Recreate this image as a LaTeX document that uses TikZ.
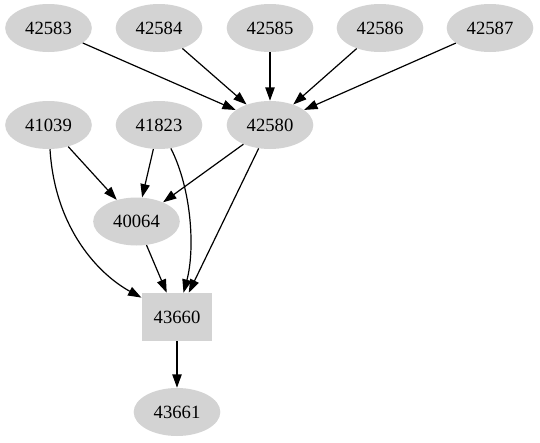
\documentclass[tikz,border=0pt]{standalone}
\usepackage{fontspec}
\setmainfont{Liberation Serif}
\usepackage{tikz}
\usetikzlibrary{arrows.meta,shapes.geometric}
\definecolor{NodeGray}{HTML}{D3D3D3}

\begin{document}
\begin{tikzpicture}[x=0.75pt,y=-0.75pt,font=\fontsize{14pt}{16pt}\selectfont,
    oval/.style={ellipse, fill=NodeGray, minimum width=65pt, minimum height=36pt, inner sep=0pt},
    boxnode/.style={rectangle, fill=NodeGray, minimum width=53pt, minimum height=36pt, inner sep=0pt},
    edge/.style={draw=black, line width=0.9pt, -{Triangle[length=10pt,width=7pt]}}]
    \useasboundingbox (0,0) rectangle (540,443);
    % top row
    \node[oval] (n42583) at (48.5,28) {42583};
    \node[oval] (n42584) at (159,28) {42584};
    \node[oval] (n42585) at (270,28) {42585};
    \node[oval] (n42586) at (380,28) {42586};
    \node[oval] (n42587) at (490,28) {42587};
    % second row
    \node[oval] (n41039) at (48.5,125) {41039};
    \node[oval] (n41823) at (159,125) {41823};
    \node[oval] (n42580) at (270,125) {42580};
    \node[oval] (n40064) at (136.5,221.5) {40064};
    \node[boxnode] (n43660) at (177,317) {43660};
    \node[oval] (n43661) at (177,412) {43661};

    \draw[edge] (n42583) -- (n42580);
    \draw[edge] (n42584) -- (n42580);
    \draw[edge] (n42585) -- (n42580);
    \draw[edge] (n42586) -- (n42580);
    \draw[edge] (n42587) -- (n42580);
    \draw[edge] (n41039) -- (n40064);
    \draw[edge] (n41823) -- (n40064);
    \draw[edge] (n42580) -- (n40064);
    \draw[edge] (n41039) .. controls (55,230) and (100,275) .. (n43660);
    \draw[edge] (n41823) .. controls (192,190) and (195,250) .. (n43660);
    \draw[edge] (n42580) -- (n43660);
    \draw[edge] (n40064) -- (n43660);
    \draw[edge] (n43660) -- (n43661);
  \end{tikzpicture}
\end{document}
